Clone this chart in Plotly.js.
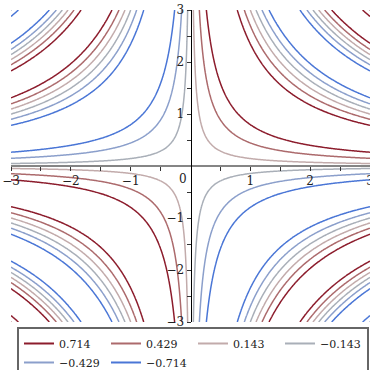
<!DOCTYPE html>
<html>
<head>
<meta charset="utf-8">
<script src="https://cdn.plot.ly/plotly-3.0.1.min.js"></script>
<style>html,body{margin:0;padding:0;background:#fff;}#chart{width:370px;height:370px;}</style>
</head>
<body>
<div id="chart"></div>
<script>
// Contour levels of the field z = sin(x*y)
const levels = [0.714, 0.429, 0.143, -0.143, -0.429, -0.714];
const levelNames = ['0.714', '0.429', '0.143', '\u22120.143', '\u22120.429', '\u22120.714'];
const levelColors = ['#8c1c2c', '#ac6a6c', '#c2abab', '#a9afb8', '#8b9fcb', '#4a76d6'];
// axis ticks
const tickVals = [-3, -2.5, -2, -1.5, -1, -0.5, 0.5, 1, 1.5, 2, 2.5, 3];
const tickText = ['\u22123', '', '\u22122', '', '\u22121', '', '', '1', '', '2', '', '3'];
const axisRange = [-3, 3];
const gridN = 301;

// sample the field on a grid
const xs = [], ys = [];
for (let i = 0; i < gridN; i++) {
  const v = axisRange[0] + (axisRange[1] - axisRange[0]) * i / (gridN - 1);
  xs.push(v); ys.push(v);
}
const Z = ys.map(y => xs.map(x => Math.sin(x * y)));

const traces = [];
levels.forEach((L, i) => {
  traces.push({
    type: 'contour', x: xs, y: ys, z: Z,
    autocontour: false,
    contours: {start: L, end: L, size: 1, coloring: 'lines'},
    colorscale: [[0, levelColors[i]], [1, levelColors[i]]],
    line: {width: 1.5, smoothing: 1},
    showscale: false, showlegend: false, hoverinfo: 'skip'
  });
});
levels.forEach((L, i) => {
  traces.push({
    type: 'scatter', mode: 'lines', x: [null], y: [null],
    name: levelNames[i], line: {color: levelColors[i], width: 2},
    showlegend: true, hoverinfo: 'skip'
  });
});

const tickFont = {family: 'DejaVu Serif', size: 12, color: '#222'};
const layout = {
  width: 370, height: 370,
  margin: {l: 11, r: 0, t: 10, b: 48, autoexpand: false},
  paper_bgcolor: '#fff', plot_bgcolor: '#fff',
  showlegend: true,
  xaxis: {
    range: axisRange, anchor: 'free', position: 0.5,
    showgrid: false, zeroline: false,
    showline: true, linecolor: '#858585', linewidth: 2,
    tickmode: 'array', tickvals: tickVals, ticktext: tickText,
    ticks: 'outside', ticklen: 4, tickcolor: '#333', tickwidth: 1,
    tickfont: tickFont, ticklabeloverflow: 'allow'
  },
  yaxis: {
    range: axisRange, anchor: 'free', position: 0.5,
    showgrid: false, zeroline: false,
    showline: true, linecolor: '#000', linewidth: 1.5,
    tickmode: 'array', tickvals: tickVals, ticktext: tickText,
    ticks: 'outside', ticklen: 4, tickcolor: '#333', tickwidth: 1,
    tickfont: tickFont, ticklabeloverflow: 'allow'
  },
  annotations: [{
    x: 0, y: 0, xref: 'x', yref: 'y', text: '0', showarrow: false,
    xshift: -8, yshift: -13, font: tickFont
  }],
  legend: {
    orientation: 'h', x: 0.0167, y: -0.016, xanchor: 'left', yanchor: 'top',
    bgcolor: '#fff', bordercolor: '#666', borderwidth: 2,
    font: {family: 'DejaVu Serif', size: 11, color: '#222'},
    entrywidth: 42, entrywidthmode: 'pixels', itemwidth: 30, tracegroupgap: 0
  }
};

Plotly.newPlot('chart', traces, layout, {displayModeBar: false, staticPlot: true});
</script>
</body>
</html>
